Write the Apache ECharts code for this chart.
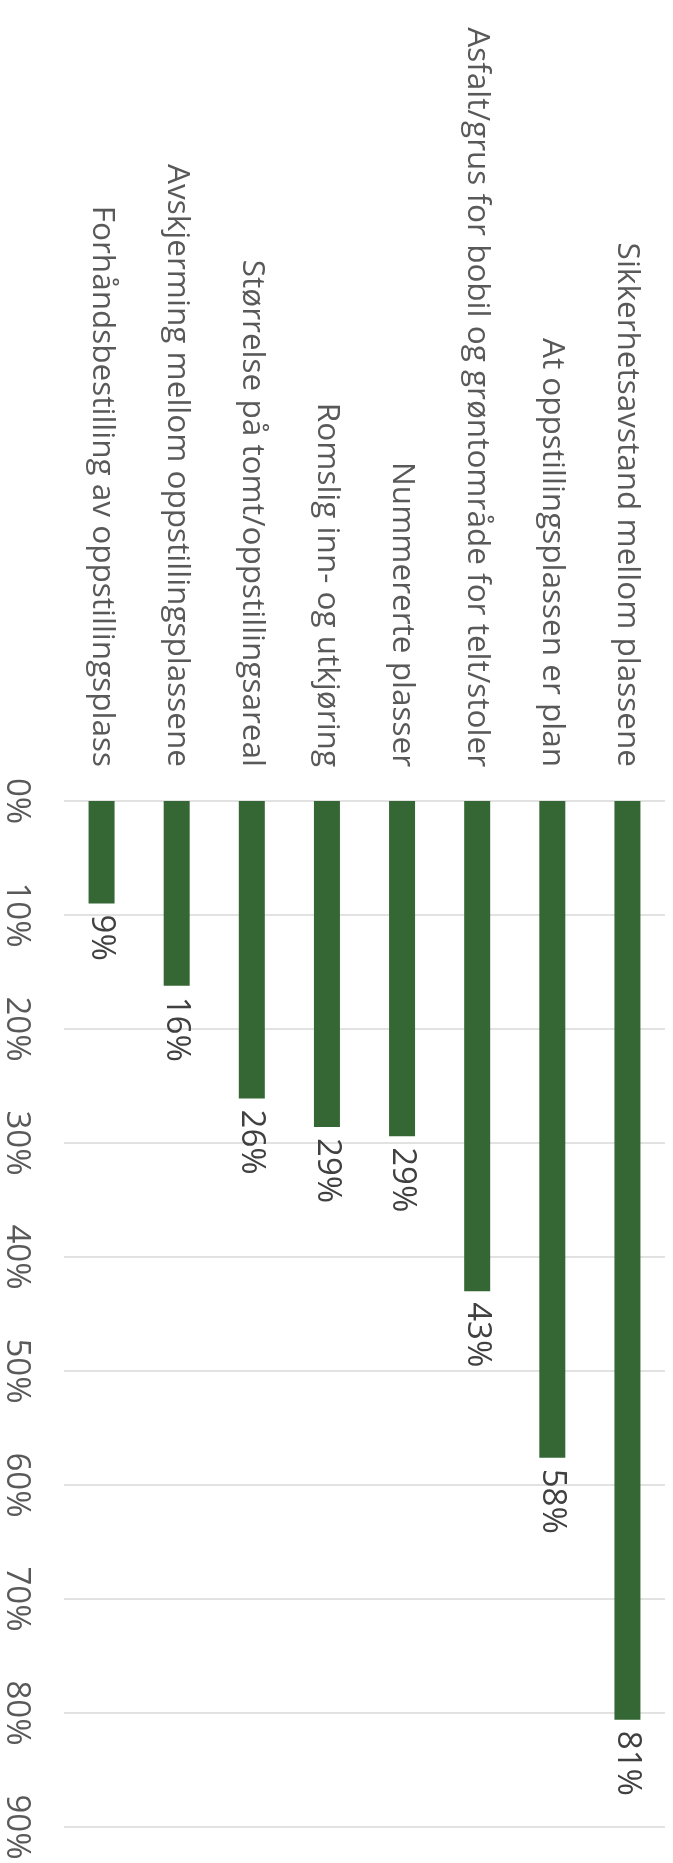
<!DOCTYPE html>
<html>
<head>
<meta charset="utf-8">
<script src="https://cdn.jsdelivr.net/npm/echarts@6/dist/echarts.min.js"></script>
<style>
  html, body { margin: 0; padding: 0; background: #fff; }
  #chart { width: 673px; height: 1863px; }
</style>
</head>
<body>
<div id="chart"></div>
<script>
const categories = [
  "Forhåndsbestilling av oppstillingsplass",
  "Avskjerming mellom oppstillingsplassene",
  "Størrelse på tomt/oppstillingsareal",
  "Romslig inn- og utkjøring",
  "Nummererte plasser",
  "Asfalt/grus for bobil og grøntområde for telt/stoler",
  "At oppstillingsplassen er plan",
  "Sikkerhetsavstand mellom plassene"
];
const values = [0.09, 0.162, 0.261, 0.286, 0.294, 0.43, 0.576, 0.806];
const axisMin = 0;
const axisMax = 0.9;
const axisStep = 0.1;

const pct = v => Math.round(v * 100) + '%';
const FONT = 'Open Sans';

const chart = echarts.init(document.getElementById('chart'), null, { renderer: 'canvas' });
chart.setOption({
  animation: false,
  backgroundColor: '#ffffff',
  grid: { left: 64, right: 8, top: 801, bottom: 36, containLabel: false },
  xAxis: {
    type: 'category',
    position: 'top',
    data: categories,
    axisLine: { show: false },
    axisTick: { show: false },
    axisLabel: {
      rotate: -90,
      interval: 0,
      margin: 34,
      align: 'right',
      verticalAlign: 'middle',
      color: '#595959',
      fontFamily: FONT,
      fontSize: 31.5
    }
  },
  yAxis: {
    type: 'value',
    inverse: true,
    min: axisMin,
    max: axisMax,
    interval: axisStep,
    axisLine: { show: false },
    axisTick: { show: false },
    splitLine: { show: true, lineStyle: { color: '#d9d9d9', width: 1.5 } },
    axisLabel: {
      rotate: -90,
      margin: 31,
      align: 'center',
      verticalAlign: 'top',
      color: '#595959',
      fontFamily: FONT,
      fontSize: 33,
      formatter: pct
    }
  },
  series: [{
    type: 'bar',
    data: values,
    barWidth: 26,
    itemStyle: { color: '#356734' },
    label: {
      show: true,
      position: 'bottom',
      distance: 11,
      rotate: -90,
      align: 'left',
      verticalAlign: 'middle',
      color: '#404040',
      fontFamily: FONT,
      fontSize: 33,
      formatter: p => pct(p.value)
    }
  }]
});
</script>
</body>
</html>
